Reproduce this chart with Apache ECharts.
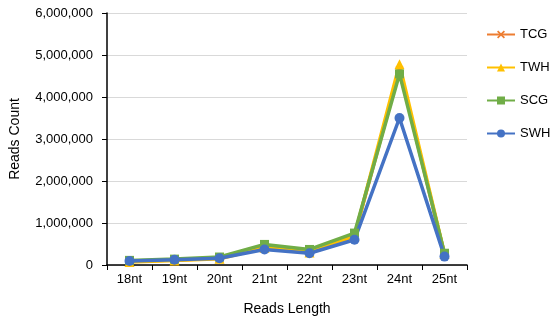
<!DOCTYPE html>
<html>
<head>
<meta charset="utf-8">
<script src="https://cdn.jsdelivr.net/npm/echarts@6/dist/echarts.min.js"></script>
<style>
html, body { margin: 0; padding: 0; background: #fff; }
#main { width: 550px; height: 321px; }
</style>
</head>
<body>
<div id="main"></div>
<script>
// 横轴类别
const categories = ["18nt", "19nt", "20nt", "21nt", "22nt", "23nt", "24nt", "25nt"];
// 各样本 reads 数
const tcg = [90000, 120000, 160000, 430000, 320000, 700000, 4650000, 250000];
const twh = [70000, 110000, 150000, 410000, 300000, 690000, 4780000, 260000];
const scg = [110000, 140000, 190000, 490000, 370000, 760000, 4550000, 280000];
const swh = [95000, 125000, 160000, 370000, 280000, 600000, 3500000, 200000];

const xPath = "path://M0,1.5L1.5,0L5,3.5L8.5,0L10,1.5L6.5,5L10,8.5L8.5,10L5,6.5L1.5,10L0,8.5L3.5,5Z";

const font = "Liberation Sans, Arial, sans-serif";
const labelColor = "#000";

function makeSeries(name, data, color, symbol, size) {
    return {
        name: name,
        type: "line",
        data: data,
        symbol: symbol,
        symbolSize: size,
        lineStyle: { width: 3.5, color: color },
        itemStyle: { color: color },
        z: 2
    };
}

const chart = echarts.init(document.getElementById("main"));
chart.setOption({
    animation: false,
    textStyle: { fontFamily: font },
    grid: { left: 99, right: 83, top: 13, bottom: 51 },
    legend: {
        orient: "vertical",
        left: 481,
        top: 23,
        itemWidth: 28,
        itemHeight: 10,
        itemGap: 20,
        textStyle: { color: labelColor, fontSize: 13, fontFamily: font }
    },
    xAxis: {
        type: "category",
        data: categories,
        name: "Reads Length",
        nameLocation: "middle",
        nameGap: 37,
        nameTextStyle: { color: labelColor, fontSize: 14 },
        axisLine: { lineStyle: { color: "#000", width: 1.5 } },
        axisTick: { show: true, length: 5, lineStyle: { color: "#000" } },
        axisLabel: { color: labelColor, fontSize: 13, margin: 8 },
        splitLine: { show: false }
    },
    yAxis: {
        type: "value",
        min: 0,
        max: 6000000,
        interval: 1000000,
        name: "Reads Count",
        nameLocation: "middle",
        nameGap: 85,
        nameTextStyle: { color: labelColor, fontSize: 14 },
        axisLine: { show: true, lineStyle: { color: "#000", width: 1.5 } },
        axisTick: { show: true, length: 5, lineStyle: { color: "#000" } },
        axisLabel: {
            color: labelColor,
            fontSize: 13,
            margin: 14,
            formatter: v => v.toLocaleString("en-US")
        },
        splitLine: { show: true, lineStyle: { color: "#d9d9d9", width: 1 } }
    },
    series: [
        makeSeries("TCG", tcg, "#ED7D31", xPath, 8),
        makeSeries("TWH", twh, "#FFC000", "triangle", 10),
        makeSeries("SCG", scg, "#70AD47", "rect", 9),
        makeSeries("SWH", swh, "#4472C4", "circle", 10)
    ]
});
</script>
</body>
</html>
